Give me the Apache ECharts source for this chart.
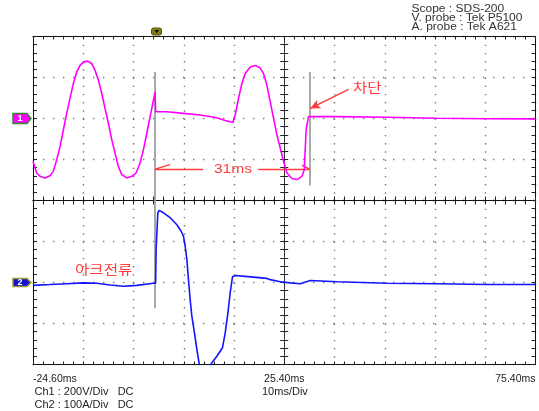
<!DOCTYPE html>
<html><head><meta charset="utf-8">
<script src="https://cdn.jsdelivr.net/npm/echarts@6/dist/echarts.min.js"></script>
<style>html,body{margin:0;padding:0;background:#fff}#c{width:539px;height:411px}</style>
</head><body><div id="c"></div>
<script>
// ---- data (time in ms as on the scope) ----
const ch1Time = [-24.6, -23.86, -23.21, -22.21, -21.21, -20.56, -19.88, -19.22, -18.56, -17.89,
  -17.23, -16.57, -15.9, -15.24, -14.58, -13.78, -12.91, -12.25, -11.59, -10.91,
  -10.26, -9.6, -8.92, -8.27, -7.61, -6.93, -5.93, -4.94, -4.08, -3.29,
  -2.63, -1.95, -1.29, -0.63, -0.3, -0.2, 2.03, 5.34, 8.67, 11.99,
  13.31, 15.18, 15.64, 16.3, 16.97, 17.63, 18.63, 19.62, 20.62, 21.28,
  21.95, 22.61, 23.27, 23.95, 24.6, 25.26, 25.94, 26.93, 27.93, 28.92,
  29.38, 29.58, 29.78, 30.24, 30.58, 35.9, 45.86, 55.82, 65.78, 75.4];
const ch1Volt = [-209, -266, -282, -290, -279, -258, -201, -137, -56, 25,
  98, 171, 227, 259, 275, 280, 268, 235, 187, 122,
  49, -23, -104, -169, -234, -274, -290, -282, -266, -217,
  -153, -72, 9, 90, 130, 33, 33, 25, 17, 4,
  -7, -20, 17, 98, 171, 219, 251, 259, 246, 219,
  162, 81, 1, -80, -144, -209, -266, -293, -298, -282,
  -250, -144, -48, 9, 17, 9, 6, 1, -1, -2];
const ch2Time = [-24.6, -21.21, -17.89, -14.58, -11.91, -9.26, -6.61, -3.94, -0.64, -0.2,
  -0.1, 0.24, 0.5, 1.36, 2.69, 4.03, 4.88, 5.34, 5.68, 6.02,
  6.34, 6.67, 7.01, 7.53, 8.01, 8.47, 9.0, 10.0, 10.86, 11.99,
  13.11, 13.65, 14.19, 14.64, 15.1, 15.64, 17.63, 21.95, 22.61, 24.6,
  26.59, 28.59, 30.58, 35.9, 45.86, 55.82, 65.78, 75.4];
const ch2Amp = [-7, -5, -3, -1, -2, -6, -9, -7, -2, -2,
  80, 170, 176, 170, 158, 141, 125, 113, 89, 56,
  7, -41, -82, -123, -163, -198, -240, -232, -198, -180,
  -159, -123, -74, -25, 14, 17, 15, 10, 7, 2,
  -1, -3, 5, 2, -2, -3, -5, -5];
const timeTickLabels = ['-24.60ms', '25.40ms', '75.40ms'];
const timeTickValues = [0, 50, 100];          // offsets from screen start
const screenStart = -24.6;                    // ms at left edge
const cursorTimes = [-0.3, 30.44];            // gray cursors
const cursorVolt = [227, -400, -327];         // cursor ends on ch1
const cursorAmp = [200, -63];                 // cursor 1 on ch2
const spanVolt = -247, spanGapTimes = [9.26, 20.22];
const barbPts = [[2.69, -225], [28.93, -228]];
const cutArrow = [[38.21, 142], [30.58, 49]];

const X = t => t - screenStart;
const FONT = "'Liberation Sans', Arial, sans-serif";
const RED = '#ff3b3b', GRAY = '#a9a9a9';

function xAx(grid, pos, len, split, label) {
  return {
    gridIndex: grid, type: 'value', position: pos, min: 0, max: 100, interval: 10,
    axisLine: { onZero: false, lineStyle: { color: '#111', width: 1 } },
    axisTick: { inside: true, length: len, lineStyle: { color: '#222' } },
    minorTick: { show: true, splitNumber: 5, length: len, lineStyle: { color: '#222' } },
    splitLine: { show: split, lineStyle: { color: '#7a7a7a', width: 1.4, type: [1.4, 6.8] } },
    axisLabel: label ? {
      show: true, fontSize: 10.5, fontFamily: FONT, color: '#222', margin: 9,
      alignMinLabel: 'left', alignMaxLabel: 'right', showMinLabel: true, showMaxLabel: true,
      formatter: v => { const i = timeTickValues.indexOf(Math.round(v)); return i >= 0 ? timeTickLabels[i] : ''; }
    } : { show: false }
  };
}
function yAx(grid, pos, off, range, step, split) {
  return {
    gridIndex: grid, type: 'value', position: pos, offset: off, min: -range, max: range, interval: step,
    axisLine: { show: true, onZero: false, lineStyle: { color: off ? '#333' : '#111', width: 1 } },
    axisTick: { show: true, inside: true, length: 4, lineStyle: { color: '#222' } },
    minorTick: { show: true, splitNumber: 5, length: 4, lineStyle: { color: '#222' } },
    splitLine: { show: split, lineStyle: { color: '#7a7a7a', width: 1.4, type: [1.4, 8.6] } },
    axisLabel: { show: false }
  };
}
const C = -251.25;
const ml = (data, color, width) => ({
  silent: true, symbol: 'none', animation: false, label: { show: false },
  lineStyle: { color, width, type: 'solid', opacity: 1 }, emphasis: { disabled: true }, data
});

const chart = echarts.init(document.getElementById('c'), null, { renderer: 'canvas' });
chart.setOption({
  animation: false,
  backgroundColor: '#fff',
  grid: [
    { left: 33, top: 36.5, width: 502.5, height: 164 },
    { left: 33, top: 200.5, width: 502.5, height: 164 }
  ],
  xAxis: [xAx(0, 'bottom', 4, true, false), xAx(0, 'top', 3, false, false),
          xAx(1, 'top', 4, true, false), xAx(1, 'bottom', 3, false, true)],
  yAxis: [yAx(0, 'left', 0, 400, 200, true), yAx(0, 'right', 0, 400, 200, false),
          yAx(0, 'left', C, 400, 200, false), yAx(0, 'right', C, 400, 200, false),
          yAx(1, 'left', 0, 200, 100, true), yAx(1, 'right', 0, 200, 100, false),
          yAx(1, 'left', C, 200, 100, false), yAx(1, 'right', C, 200, 100, false)],
  series: [
    { type: 'line', name: 'cursors1', xAxisIndex: 0, yAxisIndex: 0, data: [], z: 3,
      markLine: ml([
        [{ coord: [X(cursorTimes[0]), cursorVolt[0]] }, { coord: [X(cursorTimes[0]), cursorVolt[1]] }],
        [{ coord: [X(cursorTimes[1]), cursorVolt[0]] }, { coord: [X(cursorTimes[1]), cursorVolt[2]] }]
      ], GRAY, 2) },
    { type: 'line', name: 'cursors2', xAxisIndex: 3, yAxisIndex: 4, data: [], z: 3,
      markLine: ml([
        [{ coord: [X(cursorTimes[0]), cursorAmp[0]] }, { coord: [X(cursorTimes[0]), cursorAmp[1]] }]
      ], GRAY, 2) },
    { type: 'line', name: 'CH1', xAxisIndex: 0, yAxisIndex: 0, z: 5,
      data: ch1Time.map((t, i) => [X(t), ch1Volt[i]]),
      symbol: 'none', clip: true, lineStyle: { color: '#ff00ff', width: 1.6 } },
    { type: 'line', name: 'annot', xAxisIndex: 0, yAxisIndex: 0, data: [], z: 6,
      markLine: ml([
        [{ coord: [X(cursorTimes[0]), spanVolt] }, { coord: [X(spanGapTimes[0]), spanVolt] }],
        [{ coord: [X(spanGapTimes[1]), spanVolt] }, { coord: [X(cursorTimes[1]), spanVolt] }],
        [{ coord: [X(cursorTimes[0]), spanVolt] }, { coord: [X(barbPts[0][0]), barbPts[0][1]] }],
        [{ coord: [X(barbPts[1][0]), barbPts[1][1]] }, { coord: [X(cursorTimes[1]), spanVolt] }],
        [{ coord: [X(cutArrow[0][0]), cutArrow[0][1]] },
         { coord: [X(cutArrow[1][0]), cutArrow[1][1]], symbol: 'arrow', symbolSize: [7, 10] }]
      ], RED, 1.4) },
    { type: 'line', name: 'CH2', xAxisIndex: 3, yAxisIndex: 4, z: 5,
      data: ch2Time.map((t, i) => [X(t), ch2Amp[i]]),
      symbol: 'none', clip: true, lineStyle: { color: '#1414ff', width: 1.6 } }
  ],
  graphic: [
    { type: 'text', x: 411.5, y: 9, scaleX: 1.2, style: { text: 'Scope : SDS-200', font: '10px ' + FONT, fill: '#333', verticalAlign: 'middle' } },
    { type: 'text', x: 411.5, y: 18, scaleX: 1.2, style: { text: 'V. probe : Tek P5100', font: '10px ' + FONT, fill: '#333', verticalAlign: 'middle' } },
    { type: 'text', x: 411.5, y: 27, scaleX: 1.2, style: { text: 'A. probe : Tek A621', font: '10px ' + FONT, fill: '#333', verticalAlign: 'middle' } },
    { type: 'text', x: 34.5, y: 392.5, scaleX: 1.1, style: { text: 'Ch1 : 200V/Div   DC', font: '10px ' + FONT, fill: '#222', verticalAlign: 'middle' } },
    { type: 'text', x: 34.5, y: 405, scaleX: 1.1, style: { text: 'Ch2 : 100A/Div   DC', font: '10px ' + FONT, fill: '#222', verticalAlign: 'middle' } },
    { type: 'text', x: 262, y: 392.5, scaleX: 1.1, style: { text: '10ms/Div', font: '10px ' + FONT, fill: '#222', verticalAlign: 'middle' } },
    { type: 'text', x: 233, y: 169.5, scaleX: 1.2, style: { text: '31ms', font: '13px ' + FONT, fill: RED, align: 'center', verticalAlign: 'middle' } },
    { type: 'text', x: 353, y: 87.5, scaleX: 1.2, style: { text: '차단', font: "13px 'Noto Sans CJK KR', sans-serif", fill: RED, verticalAlign: 'middle' } },
    { type: 'text', x: 75, y: 269, scaleX: 1.2, style: { text: '아크전류', font: "13px 'Noto Sans CJK KR', sans-serif", fill: RED, verticalAlign: 'middle' } },
    { type: 'polygon', shape: { points: [[13, 113.5], [27, 113.5], [31, 118.5], [27, 123.5], [13, 123.5]] },
      style: { fill: '#ff00ff', stroke: '#2e8b2e', lineWidth: 1.5 } },
    { type: 'text', x: 20, y: 118.5, style: { text: '1', font: 'bold 9px ' + FONT, fill: '#fff', align: 'center', verticalAlign: 'middle' } },
    { type: 'polygon', shape: { points: [[13, 278.5], [27, 278.5], [31, 282.5], [27, 286.5], [13, 286.5]] },
      style: { fill: '#1212c8', stroke: '#9a9a3c', lineWidth: 1.5 } },
    { type: 'text', x: 20, y: 282.5, style: { text: '2', font: 'bold 9px ' + FONT, fill: '#fff', align: 'center', verticalAlign: 'middle' } },
    { type: 'rect', shape: { x: 151.5, y: 28, width: 10, height: 7, r: 2 }, style: { fill: '#80800a', stroke: '#55550a', lineWidth: 1 } },
    { type: 'polygon', shape: { points: [[154.5, 30], [159, 30], [156.75, 33.5]] }, style: { fill: '#111' } }
  ]
});
</script>
</body></html>
